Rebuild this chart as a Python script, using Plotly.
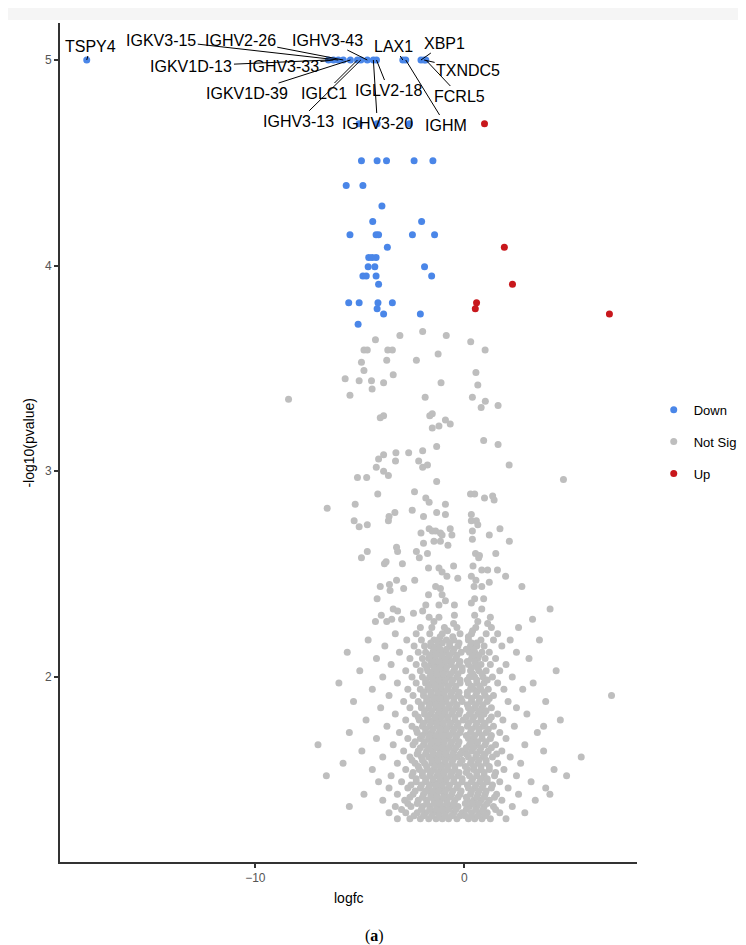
import plotly.graph_objects as go

# ---------------- data ----------------
# Down-regulated (blue) points: (logfc, -log10 p)
down_points = [
    (-18.07, 5.0), (-6.50, 5.0), (-6.26, 5.0), (-6.03, 5.0), (-5.79, 5.0), (-5.45, 5.0),
    (-5.11, 5.0), (-4.95, 5.0), (-4.64, 5.0), (-4.35, 5.0), (-4.20, 5.0), (-2.94, 5.0),
    (-2.80, 5.0), (-2.07, 5.0), (-1.92, 5.0), (-1.84, 5.0),
    (-5.03, 4.69), (-4.17, 4.69), (-2.62, 4.69),
    (-4.92, 4.51), (-4.17, 4.51), (-3.72, 4.51), (-2.40, 4.51), (-1.50, 4.51),
    (-5.65, 4.39), (-4.85, 4.39), (-3.94, 4.29), (-4.38, 4.215), (-2.04, 4.215),
    (-5.47, 4.15), (-4.22, 4.15), (-4.10, 4.15), (-2.48, 4.15), (-1.42, 4.15),
    (-3.68, 4.09), (-4.57, 4.04), (-4.41, 4.04), (-4.22, 4.04), (-4.60, 3.995),
    (-4.28, 3.995), (-1.90, 3.995), (-4.85, 3.95), (-4.69, 3.95), (-4.22, 3.95),
    (-1.56, 3.95), (-4.10, 3.91), (-5.53, 3.82), (-5.03, 3.82), (-4.13, 3.82),
    (-3.44, 3.82), (-4.17, 3.79), (-3.86, 3.765), (-2.10, 3.765), (-5.08, 3.715),
]

# Up-regulated (red) points
up_points = [
    (0.97, 4.69), (1.92, 4.09), (2.31, 3.91), (0.59, 3.82), (0.53, 3.79), (6.95, 3.765),
]

# Not significant (grey) points, upper sparse part
grey_upper = [
    (-4.25, 3.64), (-3.08, 3.66), (-1.99, 3.68), (-0.86, 3.66), (0.31, 3.63), (1.00, 3.59),
    (-4.80, 3.59), (-4.64, 3.59), (-3.66, 3.59), (-3.44, 3.59), (-3.71, 3.54), (-2.29, 3.54),
    (-1.25, 3.57), (-4.92, 3.53), (-4.80, 3.49), (-5.70, 3.45), (-5.03, 3.44), (-4.44, 3.44),
    (-4.41, 3.40), (-3.86, 3.43), (-3.40, 3.47), (-1.11, 3.43), (0.56, 3.48), (0.65, 3.42),
    (0.39, 3.36), (-5.47, 3.37), (-8.41, 3.35), (-1.87, 3.36), (1.01, 3.34), (0.81, 3.31),
    (1.62, 3.32), (-4.02, 3.26), (-3.86, 3.27), (-1.65, 3.27), (-1.53, 3.28), (-0.90, 3.25),
    (-0.67, 3.23), (-1.53, 3.21), (-1.21, 3.22), (0.93, 3.15), (1.62, 3.13), (-1.32, 3.12),
    (-1.99, 3.10), (-2.66, 3.09), (-3.27, 3.09), (-3.29, 3.05), (-3.86, 3.08), (-4.10, 3.06),
    (-4.21, 3.02), (-3.86, 3.00), (-3.63, 2.98), (-2.18, 3.05), (-1.99, 3.02), (-1.76, 3.03),
    (2.15, 3.03), (4.75, 2.96), (-5.11, 2.97), (-4.67, 2.97), (-1.32, 2.95), (-4.14, 2.89),
    (-2.38, 2.90), (-1.84, 2.87), (-1.68, 2.85), (0.30, 2.89), (0.50, 2.89), (0.97, 2.87),
    (1.36, 2.88), (1.43, 2.86), (-6.56, 2.82), (-5.22, 2.84), (-3.32, 2.80), (-2.49, 2.81),
    (-1.32, 2.80), (-0.90, 2.84), (-0.90, 2.79), (-5.27, 2.76), (-5.03, 2.73), (-4.64, 2.74),
    (-3.60, 2.78), (-3.63, 2.76), (-1.95, 2.78), (0.34, 2.79), (0.34, 2.76), (0.58, 2.76),
    (0.65, 2.74), (-2.07, 2.70), (-1.68, 2.72), (-1.53, 2.71), (-1.37, 2.71), (-1.14, 2.70),
    (-1.06, 2.69), (-0.67, 2.72), (-0.59, 2.69), (-1.45, 2.66), (-1.14, 2.66), (-0.78, 2.64),
    (0.39, 2.71), (0.39, 2.67), (1.20, 2.69), (1.71, 2.72), (2.16, 2.66), (-4.92, 2.58),
    (-4.64, 2.61), (-3.24, 2.63), (-3.19, 2.61), (-2.29, 2.61), (-2.15, 2.58), (-1.76, 2.60),
    (-1.95, 2.65), (0.54, 2.60), (0.73, 2.59), (0.69, 2.58), (1.51, 2.60), (-3.82, 2.55),
    (-3.74, 2.56), (-2.96, 2.55), (-1.71, 2.53), (-1.21, 2.53), (-0.51, 2.54), (-1.06, 2.51),
    (-0.83, 2.49), (0.34, 2.49), (0.42, 2.54), (0.56, 2.47), (0.84, 2.52), (1.12, 2.52),
    (1.59, 2.52), (1.98, 2.49), (-4.02, 2.44), (-3.58, 2.45), (-3.55, 2.42), (-2.90, 2.43),
    (-3.24, 2.47), (-2.37, 2.47), (-1.71, 2.40), (-1.37, 2.44), (-1.14, 2.43), (-1.06, 2.40),
    (-0.90, 2.37), (-1.21, 2.35), (-0.31, 2.48), (0.47, 2.44), (0.84, 2.44), (1.20, 2.46),
    (2.76, 2.44), (0.34, 2.36), (0.50, 2.38), (0.93, 2.38), (0.84, 2.33), (-4.17, 2.38),
    (-3.97, 2.30), (-4.25, 2.27), (-3.40, 2.33), (-3.19, 2.32), (-3.71, 2.27), (-3.47, 2.28),
    (-3.00, 2.28), (-2.43, 2.31), (-1.99, 2.32), (-1.84, 2.35), (-1.68, 2.29), (-1.45, 2.27),
    (-1.21, 2.29), (-0.47, 2.35), (-0.47, 2.30), (-0.51, 2.26), (0.50, 2.30), (0.65, 2.27),
    (1.25, 2.29), (1.12, 2.26), (3.27, 2.28), (4.11, 2.33),
]

# Not significant (grey) points, dense lower part: -log10 p level -> logfc values
grey_lower_levels = [2.24, 2.21, 2.18, 2.15, 2.12, 2.09, 2.06, 2.03, 2.00, 1.97, 1.94,
                     1.91, 1.88, 1.85, 1.82, 1.79, 1.76, 1.73, 1.70, 1.67, 1.64, 1.61,
                     1.58, 1.55, 1.52, 1.49, 1.46, 1.43, 1.40, 1.37, 1.34, 1.31]
grey_lower_logfc = [
    [-2.1, -1.55, -0.95, -0.35, 0.55, 1.3, 2.6],
    [-3.3, -2.3, -1.65, -1.05, -0.2, 0.35, 1.05, 1.6],
    [-4.6, -2.75, -2.05, -1.45, -1.25, -0.85, -0.5, 0.2, 0.8, 1.4, 2.2, 3.6],
    [-3.8, -2.4, -1.9, -1.6, -1.3, -0.7, -0.3, 0.3, 0.6, 0.95, 1.8],
    [-5.6, -3.1, -2.2, -1.85, -1.5, -1.2, -0.95, -0.55, -0.15, 0.25, 0.5, 0.85, 1.2, 2.5],
    [-4.2, -2.6, -2.0, -1.7, -1.4, -1.05, -0.8, -0.4, 0.35, 0.65, 1.0, 1.5, 3.1],
    [-3.5, -2.3, -1.9, -1.6, -1.3, -1.0, -0.65, -0.25, 0.2, 0.55, 0.8, 1.25, 2.0],
    [-5.0, -2.8, -2.1, -1.75, -1.45, -1.15, -0.9, -0.5, -0.1, 0.3, 0.7, 1.05, 1.7, 4.4],
    [-3.9, -2.5, -2.0, -1.65, -1.35, -1.1, -0.75, -0.35, 0.25, 0.5, 0.9, 1.35, 2.3],
    [-6.0, -3.2, -2.3, -1.85, -1.55, -1.25, -0.95, -0.6, -0.2, 0.2, 0.6, 0.95, 1.6, 3.3],
    [-4.4, -2.7, -2.1, -1.75, -1.4, -1.1, -0.8, -0.45, 0.3, 0.45, 0.8, 1.15, 1.9, 2.8],
    [-3.6, -2.45, -1.95, -1.6, -1.3, -1.0, -0.65, -0.3, 0.15, 0.55, 1.0, 1.4, 7.05],
    [-5.3, -2.9, -2.2, -1.8, -1.5, -1.2, -0.9, -0.5, -0.1, 0.35, 0.7, 1.1, 2.1, 3.9],
    [-4.0, -2.6, -2.05, -1.7, -1.35, -1.05, -0.75, -0.4, 0.2, 0.5, 0.85, 1.3, 2.5],
    [-3.3, -2.35, -1.9, -1.6, -1.25, -0.95, -0.6, -0.25, 0.25, 0.65, 0.95, 1.6, 3.0],
    [-4.7, -2.8, -2.15, -1.75, -1.45, -1.15, -0.8, -0.45, -0.05, 0.4, 0.8, 1.2, 1.85, 4.6],
    [-3.7, -2.5, -2.0, -1.65, -1.3, -1.0, -0.7, -0.35, 0.15, 0.55, 0.9, 1.4, 2.4, 3.8],
    [-5.5, -3.1, -2.25, -1.85, -1.55, -1.2, -0.9, -0.55, -0.2, 0.3, 0.7, 1.05, 1.7, 3.5],
    [-4.2, -2.7, -2.1, -1.7, -1.4, -1.1, -0.8, -0.4, 0.2, 0.45, 0.85, 1.25, 2.0],
    [-7.0, -3.4, -2.45, -1.95, -1.6, -1.3, -1.0, -0.65, -0.3, 0.25, 0.6, 1.0, 1.5, 2.9],
    [-4.9, -2.9, -2.2, -1.8, -1.5, -1.15, -0.85, -0.5, -0.1, 0.35, 0.75, 1.15, 1.8, 3.8],
    [-3.9, -2.6, -2.05, -1.7, -1.35, -1.05, -0.75, -0.35, 0.2, 0.55, 0.9, 1.35, 2.2, 5.6],
    [-5.8, -3.2, -2.35, -1.9, -1.55, -1.25, -0.95, -0.6, -0.2, 0.3, 0.65, 1.05, 1.6, 2.7],
    [-4.4, -2.8, -2.15, -1.75, -1.45, -1.1, -0.8, -0.45, 0.15, 0.45, 0.8, 1.2, 1.9, 4.3],
    [-6.6, -3.5, -2.5, -2.0, -1.65, -1.3, -1.0, -0.65, -0.3, 0.25, 0.6, 0.95, 1.45, 2.5, 4.9],
    [-4.1, -3.0, -2.3, -1.85, -1.5, -1.2, -0.9, -0.5, -0.1, 0.35, 0.75, 1.1, 1.7, 3.2],
    [-3.6, -2.7, -2.1, -1.7, -1.35, -1.05, -0.75, -0.35, 0.2, 0.5, 0.85, 1.3, 2.1, 3.9],
    [-4.8, -3.2, -2.45, -1.95, -1.6, -1.3, -0.95, -0.6, -0.2, 0.3, 0.65, 1.0, 1.55, 2.6, 4.1],
    [-3.9, -2.85, -2.2, -1.8, -1.45, -1.15, -0.85, -0.45, 0.15, 0.45, 0.8, 1.2, 1.8, 3.4],
    [-5.5, -3.3, -2.55, -2.0, -1.65, -1.3, -1.0, -0.65, -0.3, 0.25, 0.6, 0.95, 1.4, 2.3],
    [-3.6, -2.8, -2.25, -1.85, -1.5, -1.2, -0.9, -0.5, -0.1, 0.35, 0.75, 1.1, 1.7, 2.9],
    [-3.2, -2.6, -2.1, -1.7, -1.35, -1.05, -0.75, -0.35, 0.2, 0.5, 0.85, 1.25, 2.0],
]

# extra points filling the densest core (between the rows above)
grey_core_levels = [1.325, 1.355, 1.385, 1.415, 1.445, 1.475, 1.505, 1.535, 1.565, 1.595,
                    1.625, 1.655, 1.685, 1.715, 1.745, 1.775, 1.805, 1.835, 1.865, 1.895,
                    1.925, 1.955, 1.985, 2.015, 2.045, 2.075, 2.105, 2.135, 2.165, 2.195,
                    2.225]
grey_core_logfc = [
    [-2.4, -1.95, -1.55, -1.2, -0.9, -0.6, -0.2, 0.05, 0.35, 0.65, 1.0],
    [-3.0, -2.05, -1.65, -1.35, -1.05, -0.75, -0.4, 0.1, 0.55, 0.9, 1.5],
    [-2.7, -2.25, -1.8, -1.45, -1.15, -0.8, -0.5, 0.05, 0.4, 0.7, 1.1],
    [-2.6, -2.0, -1.6, -1.3, -1.0, -0.7, -0.3, 0.1, 0.6, 0.95, 1.45],
    [-2.35, -1.85, -1.5, -1.2, -0.9, -0.55, -0.15, 0.35, 0.7, 1.05],
    [-2.55, -2.05, -1.65, -1.35, -1.05, -0.7, -0.3, 0.15, 0.55, 0.9, 1.35],
    [-2.3, -1.85, -1.5, -1.15, -0.85, -0.5, -0.1, 0.4, 0.8, 1.1],
    [-2.45, -2.0, -1.6, -1.25, -0.95, -0.6, -0.25, 0.1, 0.6, 0.95, 1.5],
    [-2.2, -1.8, -1.4, -1.1, -0.8, -0.45, 0.05, 0.45, 0.8, 1.2],
    [-2.5, -2.0, -1.55, -1.25, -0.9, -0.55, -0.1, 0.35, 0.7, 1.05],
    [-2.25, -1.85, -1.5, -1.2, -0.9, -0.55, -0.2, 0.1, 0.6, 1.0, 1.55],
    [-2.1, -1.7, -1.35, -1.05, -0.75, -0.4, 0.1, 0.45, 0.8, 1.3],
    [-2.35, -1.9, -1.55, -1.25, -0.95, -0.6, -0.25, 0.35, 0.65, 1.05],
    [-2.0, -1.65, -1.35, -1.05, -0.7, -0.35, 0.1, 0.5, 0.85, 1.3],
    [-2.3, -1.85, -1.5, -1.15, -0.85, -0.5, -0.15, 0.35, 0.7, 1.15],
    [-1.95, -1.6, -1.3, -1.0, -0.65, -0.3, 0.2, 0.6, 1.0],
    [-2.2, -1.75, -1.4, -1.1, -0.8, -0.45, 0.1, 0.45, 0.8, 1.3],
    [-1.9, -1.55, -1.2, -0.9, -0.55, -0.2, 0.35, 0.7, 1.05],
    [-2.05, -1.65, -1.35, -1.05, -0.7, -0.35, 0.15, 0.55, 0.9],
    [-1.8, -1.45, -1.15, -0.85, -0.5, -0.15, 0.35, 0.75, 1.2],
    [-1.95, -1.6, -1.25, -0.95, -0.6, -0.25, 0.15, 0.6, 0.95],
    [-1.7, -1.4, -1.1, -0.75, -0.4, 0.35, 0.75],
    [-1.85, -1.5, -1.2, -0.9, -0.55, -0.2, 0.15, 0.6, 1.1],
    [-1.6, -1.3, -1.0, -0.65, -0.3, 0.4, 0.85],
    [-1.8, -1.45, -1.15, -0.85, -0.45, -0.1, 0.35, 0.65],
    [-1.5, -1.2, -0.9, -0.6, -0.2, 0.15, 0.5],
    [-1.65, -1.35, -1.05, -0.7, -0.35, 0.4, 0.7],
    [-1.45, -1.15, -0.85, -0.5, 0.1, 0.45],
    [-1.6, -1.05, -0.7, -0.25, 0.35, 0.6],
    [-1.15, -0.55, 0.2],
    [-0.8, 0.4],
]

# labelled genes and the point (logfc) each label refers to (all at top row)
label_genes = ["TSPY4", "IGKV1D-13", "IGHV3-33", "IGKV3-15", "IGHV2-26", "IGKV1D-39",
               "IGLC1", "IGHV3-13", "IGHV3-43", "IGHV3-20", "IGLV2-18", "LAX1",
               "IGHM", "XBP1", "TXNDC5", "FCRL5"]
label_logfc = [-18.07, -6.50, -6.26, -6.03, -5.79, -5.45, -5.11, -4.95, -4.64, -4.35,
               -4.20, -2.94, -2.80, -2.07, -1.92, -1.84]
label_pval = [5.0] * 16

x_ticks = [-10, 0]
y_ticks = [2, 3, 4, 5]

# ---------------- styling / layout (pixel offsets of labels) ----------------
label_offsets = [(4, -14), (-137, 6), (-50, 6), (-177, -20), (-103, -20), (-103, 33),
                 (-33, 33), (-62, 61), (-40, -20), (4, 63), (12, 30), (-9, -14),
                 (40, 65), (24, -17), (44, 10), (34, 36)]

BLUE = "#4A86E8"
GREY = "#BEBEBE"
RED = "#C8171C"

grey_x = [p[0] for p in grey_upper]
grey_y = [p[1] for p in grey_upper]
for levels, rows in [(grey_lower_levels, grey_lower_logfc), (grey_core_levels, grey_core_logfc)]:
    for lvl, xs in zip(levels, rows):
        grey_x.extend(xs)
        grey_y.extend([lvl] * len(xs))

series = [
    ("Down", [p[0] for p in down_points], [p[1] for p in down_points], BLUE),
    ("Not Sig", grey_x, grey_y, GREY),
    ("Up", [p[0] for p in up_points], [p[1] for p in up_points], RED),
]

fig = go.Figure()
for name, xs, ys, col in series:
    fig.add_trace(go.Scatter(
        x=xs, y=ys, mode="markers", name=name, legendgroup=name,
        marker=dict(color=col, size=7, line=dict(width=0)),
    ))

for g, xv, yv, (ox, oy) in zip(label_genes, label_logfc, label_pval, label_offsets):
    fig.add_annotation(x=xv, y=yv, xref="x", yref="y", text=g, showarrow=True,
                       ax=ox, ay=oy, arrowhead=0, arrowwidth=1, arrowcolor="black",
                       standoff=0, startstandoff=0,
                       font=dict(family="Liberation Sans, Arial", size=16, color="black"))

# axis titles & caption
fig.add_annotation(x=0.5, y=-0.031, xref="paper", yref="paper", yanchor="top",
                   text="logfc", showarrow=False,
                   font=dict(family="Liberation Sans, Arial", size=14, color="black"))
fig.add_annotation(x=-0.038, y=0.5, xref="paper", yref="paper", xanchor="right",
                   text="-log10(pvalue)", showarrow=False, textangle=-90,
                   font=dict(family="Liberation Sans, Arial", size=14, color="black"))
fig.add_annotation(x=0.545, y=-0.075, xref="paper", yref="paper", yanchor="top",
                   text="(<b>a</b>)", showarrow=False,
                   font=dict(family="Liberation Serif, serif", size=16, color="black"))

# faint band at the very top
fig.add_shape(type="rect", xref="paper", yref="paper", x0=-0.1, x1=1.2,
              y0=1.0179 - 12 / 839, y1=1.03, fillcolor="#F5F5F5", line=dict(width=0),
              layer="below")

axis_common = dict(showgrid=False, zeroline=False, showline=True, linecolor="#333333",
                   linewidth=2, ticks="outside", ticklen=4, tickwidth=1.5,
                   tickcolor="#333333",
                   tickfont=dict(family="Liberation Sans, Arial", size=12, color="#555555"))

fig.update_layout(
    width=746, height=945,
    margin=dict(l=52, r=103, t=15, b=91),
    paper_bgcolor="white", plot_bgcolor="white",
    showlegend=True,
    legend=dict(x=1.029, y=0.557, xanchor="left", yanchor="top",
                font=dict(family="Liberation Sans, Arial", size=13, color="black"),
                tracegroupgap=12, traceorder="grouped", itemwidth=30),
    xaxis=dict(range=[-19.35, 8.27], tickvals=x_ticks, **axis_common),
    yaxis=dict(range=[1.1, 5.18], tickvals=y_ticks, **axis_common),
)

fig.write_html("out.html")
